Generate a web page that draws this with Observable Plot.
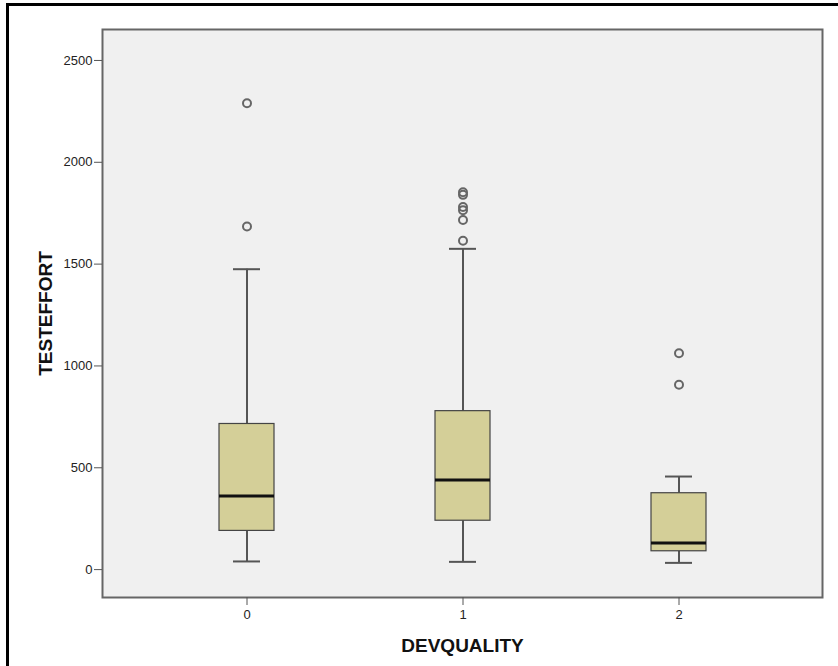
<!DOCTYPE html>
<html>
<head>
<meta charset="utf-8">
<script src="https://cdn.jsdelivr.net/npm/d3@7"></script>
<script src="https://cdn.jsdelivr.net/npm/@observablehq/plot@0.6"></script>
<style>
  html, body { margin: 0; padding: 0; background: #fff; overflow: hidden; }
  #wrap { position: relative; width: 838px; height: 666px; overflow: hidden; }
  #border { position: absolute; left: 6px; top: 3px; width: 900px; height: 800px; border: 3px solid #000; box-sizing: border-box; pointer-events: none; }
  #chart { position: absolute; left: 0; top: 0; }
  g[aria-label="x-axis label"] text { font-weight: bold; font-size: 19px; fill: #111; }
</style>
</head>
<body>
<div id="wrap">
  <div id="chart"></div>
  <div id="border"></div>
</div>
<script>
const categories = ["0", "1", "2"];
const lowerWhisker = [40, 38, 33];
const q1 = [190, 240, 90];
const median = [362, 440, 130];
const q3 = [715, 778, 375];
const upperWhisker = [1475, 1575, 457];
const outlierCategory = ["0", "0", "1", "1", "1", "1", "1", "1", "2", "2"];
const outlierValue = [2290, 1685, 1853, 1840, 1780, 1765, 1717, 1615, 1062, 908];
const yTicks = [0, 500, 1000, 1500, 2000, 2500];
const yLabel = "TESTEFFORT";
const xLabel = "DEVQUALITY";

const boxes = categories.map((c, i) => ({
  cat: c, lo: lowerWhisker[i], q1: q1[i], med: median[i], q3: q3[i], hi: upperWhisker[i]
}));
const outliers = outlierCategory.map((c, i) => ({cat: c, v: outlierValue[i]}));

const lineColor = "#555";

const chart = Plot.plot({
  width: 838,
  height: 666,
  marginLeft: 102,
  marginRight: 16,
  marginTop: 29,
  marginBottom: 69,
  style: {fontFamily: "Arial, 'Liberation Sans', sans-serif", fontSize: "13px", color: "#222", background: "transparent"},
  x: {type: "band", domain: categories, paddingInner: 0.746, paddingOuter: 0.536},
  y: {domain: [-137, 2652]},
  marks: [
    Plot.frame({fill: "#f0f0f0", stroke: "none"}),
    Plot.ruleX(boxes, {x: "cat", y1: "lo", y2: "q1", stroke: lineColor, strokeWidth: 2}),
    Plot.ruleX(boxes, {x: "cat", y1: "q3", y2: "hi", stroke: lineColor, strokeWidth: 2}),
    Plot.tickY(boxes, {x: "cat", y: "lo", stroke: lineColor, strokeWidth: 2, insetLeft: 14, insetRight: 14}),
    Plot.tickY(boxes, {x: "cat", y: "hi", stroke: lineColor, strokeWidth: 2, insetLeft: 14, insetRight: 14}),
    Plot.barY(boxes, {x: "cat", y1: "q1", y2: "q3", fill: "#d4cf98", stroke: "#444", strokeWidth: 1.2}),
    Plot.tickY(boxes, {x: "cat", y: "med", stroke: "#111", strokeWidth: 3}),
    Plot.dot(outliers, {x: "cat", y: "v", r: 4, stroke: "#666", strokeWidth: 2, fill: "none"}),
    Plot.frame({stroke: "#666", strokeWidth: 2}),
    Plot.axisY({ticks: yTicks, tickSize: 8, tickPadding: 2, tickFormat: d => String(d), label: null, stroke: lineColor}),
    Plot.text([yLabel], {text: d => d, frameAnchor: "left", textAnchor: "middle", dx: -57, rotate: -90, fontSize: 19, fontWeight: "bold", fill: "#111"}),
    Plot.axisX({tickSize: 8, tickPadding: 4, label: xLabel, labelAnchor: "center", labelOffset: 54, stroke: lineColor})
  ]
});
document.getElementById("chart").appendChild(chart);
</script>
</body>
</html>
